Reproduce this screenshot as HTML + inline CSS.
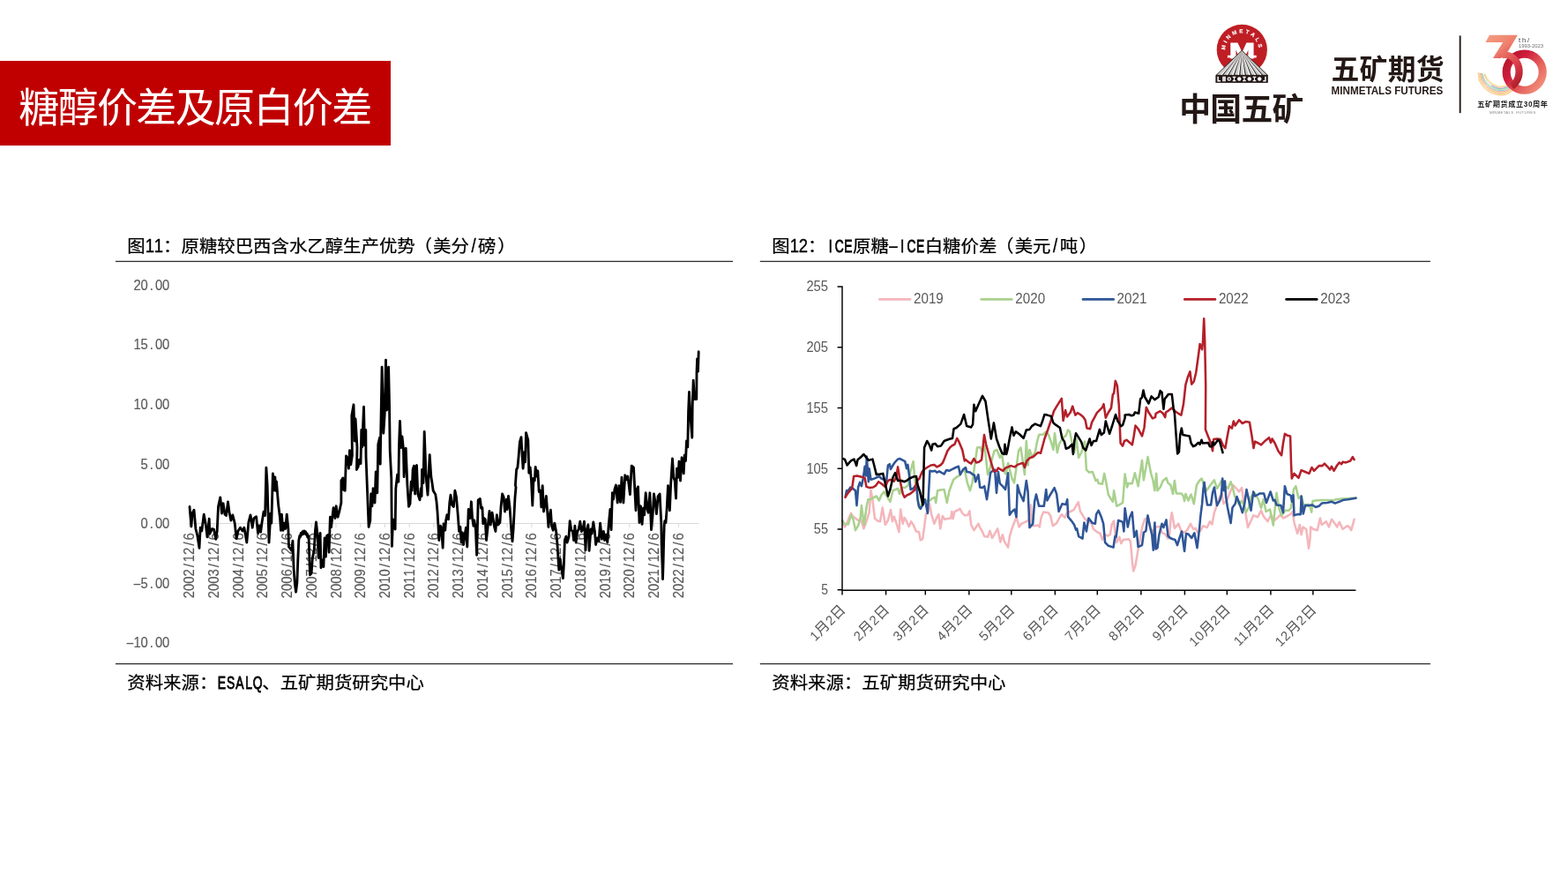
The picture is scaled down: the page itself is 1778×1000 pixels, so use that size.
<!DOCTYPE html>
<html lang="zh-CN">
<head>
<meta charset="utf-8">
<title>糖醇价差及原白价差</title>
<style>
html,body{margin:0;padding:0;background:#fff;}
body{width:1778px;height:1000px;position:relative;overflow:hidden;font-family:'Liberation Sans','Noto Sans CJK SC',sans-serif;}
.banner{position:absolute;left:0;top:69px;width:443px;height:96px;background:#C00000;}
.banner h1{margin:0;position:absolute;left:21.2px;top:4.5px;height:96px;line-height:96px;font-size:46px;font-weight:400;color:#fff;white-space:nowrap;letter-spacing:-1.62px;font-family:'Liberation Sans','Noto Sans CJK SC',sans-serif;}
svg{position:absolute;left:0;top:0;}
text{white-space:pre;}
</style>
</head>
<body>
<div class="banner"><h1>糖醇价差及原白价差</h1></div>
<svg width="1778" height="1000" viewBox="0 0 1778 1000">
<g id="logos">
<circle cx="1408.30" cy="56.30" r="28.60" fill="#BE1E24"/>
<defs><path id="arcM" d="M1389.96 60.87 A18.90 18.90 0 1 1 1426.64 60.87"/></defs>
<text font-family="'Liberation Sans','Noto Sans CJK SC',sans-serif" font-weight="700" font-size="6.2" fill="#fff" stroke="#fff" stroke-width="0.12" letter-spacing="2.6" text-anchor="middle"><textPath href="#arcM" startOffset="50%">MINMETALS</textPath></text>
<g fill="#fff"><text transform="translate(1408.3 65.5) scale(1.42 1)" text-anchor="middle" font-family="'Liberation Sans','Noto Sans CJK SC',sans-serif" font-weight="700" font-size="24.8" stroke="#fff" stroke-width="1.1" stroke-linejoin="miter">M</text><path d="M1391.9 65.6v-2.9h11v2.9zM1413.7 65.6v-2.9h11v2.9z"/></g>
<path d="M1408.20 57.20L1379.00 85.30H1437.40Z" fill="#C9C9C9" stroke="#231815" stroke-width="0.9" stroke-linejoin="round"/>
<path d="M1408.20 58.70L1383.99 85.30L1385.69 85.30Z" fill="#fff"/>
<path d="M1408.20 58.20L1385.69 85.30L1386.89 85.30Z" fill="#231815"/>
<path d="M1408.20 58.70L1390.48 85.30L1392.18 85.30Z" fill="#fff"/>
<path d="M1408.20 58.20L1392.18 85.30L1393.38 85.30Z" fill="#231815"/>
<path d="M1408.20 58.70L1396.97 85.30L1398.67 85.30Z" fill="#fff"/>
<path d="M1408.20 58.20L1398.67 85.30L1399.87 85.30Z" fill="#231815"/>
<path d="M1408.20 58.70L1403.46 85.30L1405.16 85.30Z" fill="#fff"/>
<path d="M1408.20 58.20L1405.16 85.30L1406.36 85.30Z" fill="#231815"/>
<path d="M1408.20 58.70L1409.94 85.30L1411.64 85.30Z" fill="#fff"/>
<path d="M1408.20 58.20L1411.64 85.30L1412.84 85.30Z" fill="#231815"/>
<path d="M1408.20 58.70L1416.43 85.30L1418.13 85.30Z" fill="#fff"/>
<path d="M1408.20 58.20L1418.13 85.30L1419.33 85.30Z" fill="#231815"/>
<path d="M1408.20 58.70L1422.92 85.30L1424.62 85.30Z" fill="#fff"/>
<path d="M1408.20 58.20L1424.62 85.30L1425.82 85.30Z" fill="#231815"/>
<path d="M1408.20 58.70L1429.41 85.30L1431.11 85.30Z" fill="#fff"/>
<path d="M1408.20 58.20L1431.11 85.30L1432.31 85.30Z" fill="#231815"/>
<rect x="1378.4" y="85.1" width="59.4" height="8.8" fill="#231815"/>
<path d="M1380.37 86.70h1.5v4.3h2.2v1.4h-3.7z" fill="#fff"/><rect x="1386.11" y="86.70" width="3.8" height="5.6" fill="#ddd"/><circle cx="1393.75" cy="89.50" r="2.2" fill="#fff"/><circle cx="1393.75" cy="89.50" r="1.0" fill="#231815"/><path d="M1397.69 86.70h3.6v1.3h-1.2v3h1.2v1.3h-3.6v-1.3h1.2v-3h-1.2z" fill="#fff"/><circle cx="1405.23" cy="89.50" r="2.2" fill="#fff"/><path d="M1409.17 86.70h3.6v1.3h-1.2v3h1.2v1.3h-3.6v-1.3h1.2v-3h-1.2z" fill="#fff"/><circle cx="1416.71" cy="89.50" r="2.2" fill="#fff"/><path d="M1420.65 86.70h3.6v1.3h-1.2v3h1.2v1.3h-3.6v-1.3h1.2v-3h-1.2z" fill="#fff"/><circle cx="1428.19" cy="89.50" r="2.2" fill="#fff"/><path d="M1434.13 86.70h1.5v5.7h-3.4v-1.4h1.9z" fill="#fff"/>
<text font-family="'Liberation Sans','Noto Sans CJK SC',sans-serif" font-weight="700" font-size="35.8" fill="#231815" y="137.4" x="1337.2 1372.3 1407.4 1442.5">中国五矿</text>
<text font-family="'Liberation Sans','Noto Sans CJK SC',sans-serif" font-weight="700" font-size="31.8" fill="#231815" y="89.6" x="1509.6 1541.6 1573.7 1605.7">五矿期货</text>
<text font-family="'Liberation Sans','Noto Sans CJK SC',sans-serif" font-weight="700" font-size="12.3" fill="#231815" x="1509.6" y="107.4" textLength="126.6" lengthAdjust="spacingAndGlyphs">MINMETALS FUTURES</text>
<rect x="1654.7" y="40.4" width="1.9" height="87.8" fill="#231815"/>
<defs><linearGradient id="g3" x1="0" y1="0" x2="1" y2="1"><stop offset="0" stop-color="#F4A081"/><stop offset="0.55" stop-color="#EE7F6C"/><stop offset="1" stop-color="#D93848"/></linearGradient><linearGradient id="g3b" x1="0" y1="0" x2="0.6" y2="1"><stop offset="0" stop-color="#EC7A68"/><stop offset="0.6" stop-color="#D73A48"/><stop offset="1" stop-color="#B01E2B"/></linearGradient><linearGradient id="g0" x1="0" y1="0.1" x2="1" y2="0.9"><stop offset="0" stop-color="#B5172C"/><stop offset="0.3" stop-color="#D01C3C"/><stop offset="0.65" stop-color="#E4605B"/><stop offset="1" stop-color="#F2917C"/></linearGradient></defs>
<path d="M1676.10 82.60L1676.20 83.35L1676.29 84.35L1676.39 85.53L1676.53 86.85L1676.73 88.24L1677.01 89.65L1677.39 91.03L1677.90 92.30L1678.54 93.54L1679.31 94.81L1680.17 96.11L1681.11 97.39L1682.12 98.63L1683.19 99.82L1684.28 100.92L1685.40 101.90L1686.56 102.78L1687.80 103.60L1689.10 104.34L1690.43 105.01L1691.79 105.61L1693.15 106.15L1694.49 106.61L1695.80 107.00L1697.10 107.32L1698.40 107.58L1699.71 107.77L1701.01 107.88L1702.30 107.92L1703.57 107.89L1704.80 107.79L1706.00 107.60L1707.21 107.28L1708.46 106.79L1709.72 106.19L1710.94 105.54L1712.08 104.88L1713.09 104.27L1713.95 103.76L1714.60 103.40" fill="none" stroke="#F6B45C" stroke-width="0.85" stroke-linecap="round" stroke-linejoin="round" opacity="0.85" stroke-dasharray="0.7 0.5"/>
<path d="M1677.20 82.86L1677.31 83.56L1677.42 84.49L1677.54 85.59L1677.70 86.82L1677.91 88.12L1678.20 89.43L1678.59 90.71L1679.08 91.90L1679.70 93.05L1680.42 94.24L1681.24 95.44L1682.13 96.64L1683.08 97.80L1684.09 98.91L1685.12 99.94L1686.18 100.86L1687.28 101.69L1688.46 102.47L1689.70 103.18L1690.97 103.82L1692.26 104.41L1693.55 104.92L1694.83 105.36L1696.07 105.74L1697.30 106.05L1698.53 106.28L1699.76 106.46L1700.99 106.56L1702.20 106.60L1703.39 106.57L1704.55 106.47L1705.67 106.30L1706.81 106.01L1707.99 105.57L1709.18 105.03L1710.32 104.44L1711.39 103.85L1712.35 103.30L1713.15 102.84L1713.77 102.52" fill="none" stroke="#F7BD63" stroke-width="0.85" stroke-linecap="round" stroke-linejoin="round" opacity="0.85" stroke-dasharray="0.7 0.5"/>
<path d="M1678.31 83.12L1678.43 83.77L1678.55 84.63L1678.69 85.65L1678.87 86.79L1679.10 87.99L1679.40 89.21L1679.78 90.39L1680.27 91.49L1680.86 92.56L1681.54 93.66L1682.31 94.78L1683.15 95.89L1684.04 96.97L1684.99 98.00L1685.96 98.96L1686.96 99.82L1688.01 100.61L1689.13 101.34L1690.30 102.02L1691.51 102.64L1692.74 103.20L1693.96 103.69L1695.17 104.12L1696.35 104.48L1697.50 104.77L1698.66 104.99L1699.81 105.15L1700.96 105.24L1702.09 105.27L1703.21 105.24L1704.29 105.15L1705.35 105.00L1706.42 104.74L1707.52 104.35L1708.63 103.87L1709.71 103.35L1710.71 102.82L1711.61 102.33L1712.36 101.92L1712.94 101.63" fill="none" stroke="#F5A94A" stroke-width="0.85" stroke-linecap="round" stroke-linejoin="round" opacity="0.90" stroke-dasharray="0.7 0.45"/>
<path d="M1679.50 83.40L1679.63 83.99L1679.77 84.78L1679.93 85.71L1680.13 86.75L1680.38 87.85L1680.69 88.97L1681.07 90.05L1681.54 91.06L1682.10 92.04L1682.75 93.05L1683.47 94.07L1684.25 95.08L1685.08 96.07L1685.95 97.02L1686.87 97.90L1687.80 98.70L1688.78 99.43L1689.84 100.12L1690.95 100.77L1692.09 101.36L1693.25 101.89L1694.40 102.37L1695.54 102.78L1696.64 103.12L1697.72 103.39L1698.79 103.60L1699.87 103.74L1700.93 103.82L1701.98 103.84L1703.01 103.81L1704.02 103.73L1705.00 103.60L1705.99 103.38L1707.02 103.04L1708.05 102.63L1709.04 102.17L1709.97 101.71L1710.81 101.28L1711.51 100.93L1712.04 100.68" fill="none" stroke="#EE8168" stroke-width="0.85" stroke-linecap="round" stroke-linejoin="round" opacity="0.90"/>
<path d="M1680.52 83.64L1680.66 84.18L1680.81 84.91L1680.99 85.77L1681.21 86.72L1681.47 87.73L1681.79 88.76L1682.17 89.76L1682.63 90.69L1683.17 91.59L1683.78 92.52L1684.45 93.46L1685.18 94.39L1685.96 95.30L1686.78 96.18L1687.64 96.99L1688.52 97.74L1689.45 98.43L1690.45 99.08L1691.50 99.69L1692.59 100.26L1693.68 100.78L1694.78 101.23L1695.86 101.63L1696.89 101.96L1697.90 102.21L1698.91 102.40L1699.92 102.53L1700.91 102.60L1701.89 102.62L1702.85 102.59L1703.79 102.51L1704.70 102.40L1705.63 102.21L1706.58 101.92L1707.54 101.56L1708.47 101.16L1709.34 100.76L1710.12 100.39L1710.77 100.08L1711.27 99.86" fill="none" stroke="#5CC5CC" stroke-width="0.85" stroke-linecap="round" stroke-linejoin="round" opacity="0.95"/>
<path d="M1681.54 83.88L1681.69 84.38L1681.85 85.04L1682.05 85.82L1682.29 86.69L1682.56 87.62L1682.89 88.55L1683.28 89.47L1683.72 90.32L1684.24 91.14L1684.81 91.99L1685.44 92.85L1686.12 93.70L1686.85 94.53L1687.62 95.34L1688.41 96.09L1689.24 96.78L1690.12 97.42L1691.06 98.04L1692.06 98.62L1693.08 99.16L1694.12 99.66L1695.16 100.10L1696.17 100.48L1697.14 100.79L1698.09 101.03L1699.03 101.21L1699.96 101.32L1700.88 101.38L1701.79 101.39L1702.68 101.36L1703.55 101.30L1704.40 101.20L1705.26 101.04L1706.15 100.79L1707.04 100.49L1707.91 100.15L1708.71 99.81L1709.43 99.49L1710.04 99.23L1710.50 99.05" fill="none" stroke="#9FD063" stroke-width="0.85" stroke-linecap="round" stroke-linejoin="round" opacity="0.95"/>
<path d="M1691.57 97.17L1692.52 97.73L1693.50 98.25L1694.49 98.73L1695.47 99.16L1696.43 99.52L1697.35 99.82L1698.25 100.05L1699.13 100.21L1700.00 100.31L1700.86 100.37L1701.71 100.37L1702.54 100.34L1703.36 100.28L1704.15 100.20L1704.96 100.06L1705.79 99.85L1706.62 99.59L1707.43 99.31L1708.19 99.02L1708.86 98.75L1709.43 98.52L1709.86 98.37" fill="none" stroke="#4F8FD0" stroke-width="0.85" stroke-linecap="round" stroke-linejoin="round" opacity="0.90"/>
<path d="M1683.41 84.32L1683.57 84.73L1683.77 85.27L1684.00 85.92L1684.27 86.64L1684.57 87.40L1684.92 88.18L1685.30 88.93L1685.73 89.63L1686.19 90.32L1686.71 91.02L1687.26 91.73L1687.85 92.43L1688.47 93.13L1689.14 93.79L1689.83 94.43L1690.56 95.02L1691.34 95.58L1692.18 96.13L1693.08 96.66L1693.99 97.15L1694.93 97.61L1695.85 98.02L1696.75 98.37L1697.61 98.66L1698.43 98.87L1699.25 99.02L1700.05 99.11L1700.84 99.15L1701.62 99.15L1702.38 99.12L1703.12 99.07L1703.85 99.00L1704.59 98.89L1705.35 98.73L1706.12 98.52L1706.86 98.30L1707.56 98.07L1708.18 97.85L1708.70 97.68L1709.10 97.55" fill="none" stroke="#EE8B75" stroke-width="0.85" stroke-linecap="round" stroke-linejoin="round" opacity="0.90"/>
<path d="M1684.60 84.60L1684.77 84.95L1684.98 85.42L1685.24 85.98L1685.52 86.61L1685.85 87.27L1686.20 87.94L1686.59 88.59L1687.00 89.20L1687.44 89.79L1687.91 90.40L1688.41 91.01L1688.94 91.62L1689.51 92.23L1690.11 92.81L1690.74 93.37L1691.40 93.90L1692.12 94.41L1692.90 94.91L1693.72 95.41L1694.58 95.88L1695.44 96.31L1696.29 96.70L1697.12 97.03L1697.90 97.30L1698.65 97.49L1699.38 97.62L1700.11 97.70L1700.81 97.72L1701.51 97.72L1702.18 97.69L1702.85 97.65L1703.50 97.60L1704.16 97.53L1704.85 97.42L1705.53 97.28L1706.20 97.12L1706.82 96.96L1707.38 96.81L1707.84 96.69L1708.20 96.60" fill="none" stroke="#F6E04E" stroke-width="0.85" stroke-linecap="round" stroke-linejoin="round" opacity="0.95"/>
<circle cx="1728.7" cy="81.7" r="20.55" fill="none" stroke="url(#g0)" stroke-width="9.1"/>
<path d="M1689.0 39.7H1720.9L1709.9 58.3Q1706.5 60.2 1702.0 65.9H1692.9L1704.2 48.1H1684.4Z" fill="url(#g3)"/>
<path d="M1701.61 59.17L1702.80 58.88L1704.01 58.67L1705.22 58.55L1706.44 58.50L1707.66 58.54L1708.87 58.66L1710.08 58.86L1711.27 59.14L1712.45 59.50L1713.60 59.94L1714.73 60.46L1715.83 61.05L1716.89 61.72L1717.92 62.46L1718.90 63.26L1719.84 64.13L1720.73 65.06L1721.57 66.05L1722.35 67.10L1723.08 68.19L1723.75 69.33L1724.35 70.52L1724.89 71.74L1725.36 73.00L1725.76 74.29L1726.09 75.60L1726.35 76.93L1726.54 78.28L1726.66 79.64L1726.70 81.00L1726.67 82.36L1726.56 83.72L1726.39 85.07L1726.13 86.41L1725.81 87.72L1725.42 89.01L1724.96 90.28L1724.43 91.51L1723.84 92.70L1723.18 93.85L1722.46 94.95L1721.69 96.00L1720.86 97.00L1719.97 97.94L1719.04 98.82L1718.06 99.63L1717.04 100.38L1715.98 101.05L1712.09 94.52L1712.71 94.07L1713.31 93.56L1713.89 93.02L1714.44 92.43L1714.96 91.79L1715.45 91.12L1715.90 90.41L1716.33 89.67L1716.71 88.90L1717.06 88.10L1717.37 87.27L1717.65 86.42L1717.88 85.55L1718.07 84.67L1718.21 83.77L1718.32 82.86L1718.38 81.95L1718.40 81.03L1718.38 80.12L1718.31 79.20L1718.20 78.30L1718.04 77.40L1717.85 76.52L1717.61 75.65L1717.33 74.81L1717.02 73.98L1716.66 73.19L1716.27 72.42L1715.84 71.68L1715.38 70.98L1714.88 70.31L1714.36 69.69L1713.81 69.10L1713.23 68.56L1712.62 68.07L1711.99 67.62L1711.35 67.22L1710.68 66.87L1710.00 66.57L1709.31 66.33L1708.61 66.14L1707.90 66.01L1707.18 65.93L1706.47 65.90L1705.75 65.93L1705.03 66.02L1704.32 66.16L1703.62 66.35Z" fill="url(#g3b)"/>
<text font-family="'Liberation Sans','Noto Sans CJK SC',sans-serif" font-size="7.6" fill="#3E3A39" x="1721.9" y="48.2" letter-spacing="1.9">th/</text>
<text font-family="'Liberation Sans','Noto Sans CJK SC',sans-serif" font-size="4.9" fill="#6E6E6E" x="1721.9" y="53.9" textLength="28.2" lengthAdjust="spacingAndGlyphs">1993-2023</text>
<text font-family="'Liberation Sans','Noto Sans CJK SC',sans-serif" font-weight="700" font-size="8.2" fill="#1A1A1A" x="1675.2" y="120.6" textLength="79.8" lengthAdjust="spacing">五矿期货成立30周年</text>
<text font-family="'Liberation Sans','Noto Sans CJK SC',sans-serif" font-size="4.3" fill="#8A8A8A" x="1689.0" y="129.0" textLength="52.3" lengthAdjust="spacing">MINMETALS  FUTURES</text>
</g>
<g id="chart-left">
<rect x="131" y="295.75" width="700" height="1.3" fill="#303030"/>
<rect x="131" y="752" width="700" height="1.3" fill="#303030"/>
<g fill="#595959" stroke="#595959" stroke-width="0.05" font-family="'Liberation Sans','Noto Sans CJK SC',sans-serif" ><text transform="translate(151.43 328.90) scale(0.870 1)" font-size="17.00" stroke="#595959" stroke-width="0.17" x="-0.03 9.37 21.13 28.16 37.56">20.00</text></g>
<g fill="#595959" stroke="#595959" stroke-width="0.05" font-family="'Liberation Sans','Noto Sans CJK SC',sans-serif" ><text transform="translate(151.43 396.45) scale(0.870 1)" font-size="17.00" stroke="#595959" stroke-width="0.17" x="-0.03 9.37 21.13 28.16 37.56">15.00</text></g>
<g fill="#595959" stroke="#595959" stroke-width="0.05" font-family="'Liberation Sans','Noto Sans CJK SC',sans-serif" ><text transform="translate(151.43 464.00) scale(0.870 1)" font-size="17.00" stroke="#595959" stroke-width="0.17" x="-0.03 9.37 21.13 28.16 37.56">10.00</text></g>
<g fill="#595959" stroke="#595959" stroke-width="0.05" font-family="'Liberation Sans','Noto Sans CJK SC',sans-serif" ><text transform="translate(159.60 531.55) scale(0.870 1)" font-size="17.00" stroke="#595959" stroke-width="0.17" x="-0.03 11.73 18.76 28.16">5.00</text></g>
<g fill="#595959" stroke="#595959" stroke-width="0.05" font-family="'Liberation Sans','Noto Sans CJK SC',sans-serif" ><text transform="translate(159.60 599.10) scale(0.870 1)" font-size="17.00" stroke="#595959" stroke-width="0.17" x="-0.03 11.73 18.76 28.16">0.00</text></g>
<g fill="#595959" stroke="#595959" stroke-width="0.05" font-family="'Liberation Sans','Noto Sans CJK SC',sans-serif" ><text transform="translate(151.43 666.65) scale(1.900 1)" font-size="16.35" x="-0.57">-</text><text transform="translate(151.43 666.65) scale(0.870 1)" font-size="17.00" stroke="#595959" stroke-width="0.17" x="9.37 21.13 28.16 37.56">5.00</text></g>
<g fill="#595959" stroke="#595959" stroke-width="0.05" font-family="'Liberation Sans','Noto Sans CJK SC',sans-serif" ><text transform="translate(143.25 734.20) scale(1.900 1)" font-size="16.35" x="-0.57">-</text><text transform="translate(143.25 734.20) scale(0.870 1)" font-size="17.00" stroke="#595959" stroke-width="0.17" x="9.37 18.76 30.53 37.56 46.95">10.00</text></g>
<path d="M213.5 593.5H792.3" stroke="#D9D9D9" stroke-width="1" fill="none"/>
<path d="M214.60 593.5v4.6M242.33 593.5v4.6M270.07 593.5v4.6M297.81 593.5v4.6M325.54 593.5v4.6M353.27 593.5v4.6M381.01 593.5v4.6M408.75 593.5v4.6M436.48 593.5v4.6M464.22 593.5v4.6M491.95 593.5v4.6M519.68 593.5v4.6M547.42 593.5v4.6M575.15 593.5v4.6M602.89 593.5v4.6M630.62 593.5v4.6M658.36 593.5v4.6M686.10 593.5v4.6M713.83 593.5v4.6M741.57 593.5v4.6M769.30 593.5v4.6" stroke="#D9D9D9" stroke-width="1" fill="none"/>
<g transform="translate(220.10 678.2) rotate(-90)"><g fill="#595959" stroke="#595959" stroke-width="0.05" font-family="'Liberation Sans','Noto Sans CJK SC',sans-serif" ><text transform="translate(0.00 0.00) scale(0.870 1)" font-size="17.08" stroke="#595959" stroke-width="0.17" x="-0.03 9.41 18.84 28.28 40.09 47.15 56.59 68.40 75.46">2002/12/6</text></g></g>
<g transform="translate(247.83 678.2) rotate(-90)"><g fill="#595959" stroke="#595959" stroke-width="0.05" font-family="'Liberation Sans','Noto Sans CJK SC',sans-serif" ><text transform="translate(0.00 0.00) scale(0.870 1)" font-size="17.08" stroke="#595959" stroke-width="0.17" x="-0.03 9.41 18.84 28.28 40.09 47.15 56.59 68.40 75.46">2003/12/6</text></g></g>
<g transform="translate(275.57 678.2) rotate(-90)"><g fill="#595959" stroke="#595959" stroke-width="0.05" font-family="'Liberation Sans','Noto Sans CJK SC',sans-serif" ><text transform="translate(0.00 0.00) scale(0.870 1)" font-size="17.08" stroke="#595959" stroke-width="0.17" x="-0.03 9.41 18.84 28.28 40.09 47.15 56.59 68.40 75.46">2004/12/6</text></g></g>
<g transform="translate(303.31 678.2) rotate(-90)"><g fill="#595959" stroke="#595959" stroke-width="0.05" font-family="'Liberation Sans','Noto Sans CJK SC',sans-serif" ><text transform="translate(0.00 0.00) scale(0.870 1)" font-size="17.08" stroke="#595959" stroke-width="0.17" x="-0.03 9.41 18.84 28.28 40.09 47.15 56.59 68.40 75.46">2005/12/6</text></g></g>
<g transform="translate(331.04 678.2) rotate(-90)"><g fill="#595959" stroke="#595959" stroke-width="0.05" font-family="'Liberation Sans','Noto Sans CJK SC',sans-serif" ><text transform="translate(0.00 0.00) scale(0.870 1)" font-size="17.08" stroke="#595959" stroke-width="0.17" x="-0.03 9.41 18.84 28.28 40.09 47.15 56.59 68.40 75.46">2006/12/6</text></g></g>
<g transform="translate(358.77 678.2) rotate(-90)"><g fill="#595959" stroke="#595959" stroke-width="0.05" font-family="'Liberation Sans','Noto Sans CJK SC',sans-serif" ><text transform="translate(0.00 0.00) scale(0.870 1)" font-size="17.08" stroke="#595959" stroke-width="0.17" x="-0.03 9.41 18.84 28.28 40.09 47.15 56.59 68.40 75.46">2007/12/6</text></g></g>
<g transform="translate(386.51 678.2) rotate(-90)"><g fill="#595959" stroke="#595959" stroke-width="0.05" font-family="'Liberation Sans','Noto Sans CJK SC',sans-serif" ><text transform="translate(0.00 0.00) scale(0.870 1)" font-size="17.08" stroke="#595959" stroke-width="0.17" x="-0.03 9.41 18.84 28.28 40.09 47.15 56.59 68.40 75.46">2008/12/6</text></g></g>
<g transform="translate(414.25 678.2) rotate(-90)"><g fill="#595959" stroke="#595959" stroke-width="0.05" font-family="'Liberation Sans','Noto Sans CJK SC',sans-serif" ><text transform="translate(0.00 0.00) scale(0.870 1)" font-size="17.08" stroke="#595959" stroke-width="0.17" x="-0.03 9.41 18.84 28.28 40.09 47.15 56.59 68.40 75.46">2009/12/6</text></g></g>
<g transform="translate(441.98 678.2) rotate(-90)"><g fill="#595959" stroke="#595959" stroke-width="0.05" font-family="'Liberation Sans','Noto Sans CJK SC',sans-serif" ><text transform="translate(0.00 0.00) scale(0.870 1)" font-size="17.08" stroke="#595959" stroke-width="0.17" x="-0.03 9.41 18.84 28.28 40.09 47.15 56.59 68.40 75.46">2010/12/6</text></g></g>
<g transform="translate(469.72 678.2) rotate(-90)"><g fill="#595959" stroke="#595959" stroke-width="0.05" font-family="'Liberation Sans','Noto Sans CJK SC',sans-serif" ><text transform="translate(0.00 0.00) scale(0.870 1)" font-size="17.08" stroke="#595959" stroke-width="0.17" x="-0.03 9.41 18.84 28.28 40.09 47.15 56.59 68.40 75.46">2011/12/6</text></g></g>
<g transform="translate(497.45 678.2) rotate(-90)"><g fill="#595959" stroke="#595959" stroke-width="0.05" font-family="'Liberation Sans','Noto Sans CJK SC',sans-serif" ><text transform="translate(0.00 0.00) scale(0.870 1)" font-size="17.08" stroke="#595959" stroke-width="0.17" x="-0.03 9.41 18.84 28.28 40.09 47.15 56.59 68.40 75.46">2012/12/6</text></g></g>
<g transform="translate(525.18 678.2) rotate(-90)"><g fill="#595959" stroke="#595959" stroke-width="0.05" font-family="'Liberation Sans','Noto Sans CJK SC',sans-serif" ><text transform="translate(0.00 0.00) scale(0.870 1)" font-size="17.08" stroke="#595959" stroke-width="0.17" x="-0.03 9.41 18.84 28.28 40.09 47.15 56.59 68.40 75.46">2013/12/6</text></g></g>
<g transform="translate(552.92 678.2) rotate(-90)"><g fill="#595959" stroke="#595959" stroke-width="0.05" font-family="'Liberation Sans','Noto Sans CJK SC',sans-serif" ><text transform="translate(0.00 0.00) scale(0.870 1)" font-size="17.08" stroke="#595959" stroke-width="0.17" x="-0.03 9.41 18.84 28.28 40.09 47.15 56.59 68.40 75.46">2014/12/6</text></g></g>
<g transform="translate(580.65 678.2) rotate(-90)"><g fill="#595959" stroke="#595959" stroke-width="0.05" font-family="'Liberation Sans','Noto Sans CJK SC',sans-serif" ><text transform="translate(0.00 0.00) scale(0.870 1)" font-size="17.08" stroke="#595959" stroke-width="0.17" x="-0.03 9.41 18.84 28.28 40.09 47.15 56.59 68.40 75.46">2015/12/6</text></g></g>
<g transform="translate(608.39 678.2) rotate(-90)"><g fill="#595959" stroke="#595959" stroke-width="0.05" font-family="'Liberation Sans','Noto Sans CJK SC',sans-serif" ><text transform="translate(0.00 0.00) scale(0.870 1)" font-size="17.08" stroke="#595959" stroke-width="0.17" x="-0.03 9.41 18.84 28.28 40.09 47.15 56.59 68.40 75.46">2016/12/6</text></g></g>
<g transform="translate(636.12 678.2) rotate(-90)"><g fill="#595959" stroke="#595959" stroke-width="0.05" font-family="'Liberation Sans','Noto Sans CJK SC',sans-serif" ><text transform="translate(0.00 0.00) scale(0.870 1)" font-size="17.08" stroke="#595959" stroke-width="0.17" x="-0.03 9.41 18.84 28.28 40.09 47.15 56.59 68.40 75.46">2017/12/6</text></g></g>
<g transform="translate(663.86 678.2) rotate(-90)"><g fill="#595959" stroke="#595959" stroke-width="0.05" font-family="'Liberation Sans','Noto Sans CJK SC',sans-serif" ><text transform="translate(0.00 0.00) scale(0.870 1)" font-size="17.08" stroke="#595959" stroke-width="0.17" x="-0.03 9.41 18.84 28.28 40.09 47.15 56.59 68.40 75.46">2018/12/6</text></g></g>
<g transform="translate(691.60 678.2) rotate(-90)"><g fill="#595959" stroke="#595959" stroke-width="0.05" font-family="'Liberation Sans','Noto Sans CJK SC',sans-serif" ><text transform="translate(0.00 0.00) scale(0.870 1)" font-size="17.08" stroke="#595959" stroke-width="0.17" x="-0.03 9.41 18.84 28.28 40.09 47.15 56.59 68.40 75.46">2019/12/6</text></g></g>
<g transform="translate(719.33 678.2) rotate(-90)"><g fill="#595959" stroke="#595959" stroke-width="0.05" font-family="'Liberation Sans','Noto Sans CJK SC',sans-serif" ><text transform="translate(0.00 0.00) scale(0.870 1)" font-size="17.08" stroke="#595959" stroke-width="0.17" x="-0.03 9.41 18.84 28.28 40.09 47.15 56.59 68.40 75.46">2020/12/6</text></g></g>
<g transform="translate(747.07 678.2) rotate(-90)"><g fill="#595959" stroke="#595959" stroke-width="0.05" font-family="'Liberation Sans','Noto Sans CJK SC',sans-serif" ><text transform="translate(0.00 0.00) scale(0.870 1)" font-size="17.08" stroke="#595959" stroke-width="0.17" x="-0.03 9.41 18.84 28.28 40.09 47.15 56.59 68.40 75.46">2021/12/6</text></g></g>
<g transform="translate(774.80 678.2) rotate(-90)"><g fill="#595959" stroke="#595959" stroke-width="0.05" font-family="'Liberation Sans','Noto Sans CJK SC',sans-serif" ><text transform="translate(0.00 0.00) scale(0.870 1)" font-size="17.08" stroke="#595959" stroke-width="0.17" x="-0.03 9.41 18.84 28.28 40.09 47.15 56.59 68.40 75.46">2022/12/6</text></g></g>
<path d="M215.0 574.5 216.9 597.0 218.1 582.0 220.0 578.2 221.9 599.5 223.8 607.0 226.0 621.4 227.2 598.2 228.8 602.0 231.2 583.2 233.1 593.2 235.0 608.9 237.2 588.2 237.8 605.1 240.6 599.5 242.5 600.1 244.8 611.4 246.2 602.0 247.5 574.5 249.8 563.9 251.5 582.0 253.1 570.8 255.0 583.2 256.5 584.5 258.5 568.9 260.0 580.8 261.9 590.1 263.8 583.9 266.2 593.2 268.1 610.8 270.0 602.0 272.5 598.2 275.0 602.0 276.9 598.2 279.8 615.1 281.9 592.0 284.0 583.9 286.2 598.2 287.8 587.6 290.6 585.8 292.5 604.5 294.4 595.8 295.6 603.2 296.9 593.2 299.0 580.1 300.6 584.5 301.9 530.1 303.1 549.5 305.0 615.1 306.9 582.0 307.8 593.2 309.4 537.0 311.0 555.8 311.9 540.8 312.5 556.4 313.5 545.8 315.6 572.0 317.5 587.0 318.5 601.4 319.4 583.2 321.0 601.4 322.5 593.2 323.8 599.5 325.2 583.2 326.9 599.5 327.5 620.0 329.4 622.5 330.6 623.8 331.9 613.1 333.1 645.0 334.4 662.5 335.6 671.2 336.9 660.0 337.8 635.0 338.8 612.5 339.8 607.5 340.5 608.8 341.2 604.4 342.1 606.5 343.0 602.8 343.9 605.5 344.8 601.9 345.6 605.0 346.5 602.8 347.4 606.5 348.2 604.8 349.0 609.0 349.8 607.5 350.2 612.5 351.5 651.9 353.1 650.0 354.4 632.5 356.2 623.8 357.5 601.2 358.5 591.9 360.0 606.2 361.2 632.5 363.1 604.4 364.0 643.8 365.6 635.0 366.9 642.5 368.1 610.0 369.4 631.2 370.6 607.5 372.5 606.2 373.1 626.2 374.4 586.2 375.6 597.5 376.9 586.2 378.1 575.6 380.0 587.5 381.2 573.8 383.1 586.2 385.0 578.8 386.9 570.0 386.9 545.0 388.8 541.9 389.4 555.0 391.2 556.2 392.5 516.9 394.4 520.0 395.4 531.2 396.5 510.6 397.8 526.9 399.4 516.2 398.8 471.2 401.0 458.8 402.2 500.0 403.1 475.0 405.0 507.5 404.4 532.5 406.2 528.8 407.5 521.2 409.0 525.6 409.8 487.5 410.6 506.9 412.5 461.2 413.5 505.0 414.8 487.5 415.0 517.5 418.1 597.5 419.8 590.0 420.6 560.0 421.9 573.8 423.1 553.8 425.0 570.0 426.2 535.0 427.8 558.8 428.8 503.8 430.6 496.2 431.2 526.2 431.9 482.5 433.1 416.2 434.8 491.2 436.2 470.0 437.5 408.1 438.5 465.0 439.4 462.5 440.6 416.2 441.5 457.5 442.2 511.2 443.8 542.5 444.4 619.4 445.6 588.8 448.1 600.0 448.8 553.8 450.6 538.1 451.9 546.2 452.5 505.0 453.5 477.5 454.8 507.5 456.0 495.0 457.5 510.0 458.1 540.6 460.2 508.1 461.9 550.0 463.5 574.4 465.0 571.2 466.2 546.2 467.2 556.2 468.1 532.5 469.4 528.1 470.6 560.0 471.5 530.0 472.5 527.5 473.8 560.0 476.0 566.9 477.2 553.8 478.1 562.5 478.5 532.5 480.0 547.5 481.2 489.4 483.1 540.0 485.0 561.2 487.2 515.6 488.8 540.0 490.0 547.5 491.2 556.2 493.8 560.6 495.0 568.8 496.0 580.0 496.9 595.0 497.8 612.5 499.4 596.2 500.6 598.8 502.1 621.2 503.1 593.8 504.8 601.2 505.6 590.0 506.9 583.8 508.5 588.8 509.8 570.0 511.0 561.2 512.5 572.5 514.4 574.4 515.9 556.2 517.5 563.8 519.0 581.2 520.6 602.5 521.9 597.5 523.1 615.0 524.4 603.8 525.6 617.5 527.5 603.8 528.5 598.1 529.8 620.0 531.2 577.5 533.1 587.5 534.4 568.8 535.6 587.5 536.9 596.2 537.8 590.0 539.4 600.0 540.6 629.4 542.2 566.9 544.4 565.6 545.6 576.2 546.9 575.6 547.8 593.8 548.8 587.5 550.2 588.8 551.5 612.5 553.1 597.5 555.0 579.4 556.2 595.0 558.1 581.2 559.4 590.0 560.6 597.5 561.9 602.5 563.4 583.8 565.0 595.0 566.9 592.5 568.1 573.8 569.6 560.0 571.2 563.8 572.5 580.0 574.4 566.2 575.0 577.5 576.5 562.5 578.1 576.2 579.8 601.2 581.0 613.8 582.2 598.8 583.1 581.2 584.0 563.8 585.0 552.5 584.4 550.0 585.6 532.5 586.9 530.0 588.1 517.5 589.4 501.2 591.0 495.6 592.2 517.5 593.1 531.2 594.8 512.5 595.6 523.8 596.5 490.6 598.8 498.8 599.8 536.2 601.2 530.0 602.5 545.0 603.8 573.1 605.0 542.5 606.2 545.0 607.2 529.4 608.5 540.0 609.8 533.8 611.2 557.5 612.8 556.2 613.8 575.0 615.2 550.6 616.5 580.0 618.1 571.2 619.4 562.5 620.6 578.8 621.9 597.5 623.1 586.2 624.4 578.1 625.6 596.2 627.2 601.2 628.8 593.1 630.6 602.5 631.9 616.2 633.8 646.2 635.2 633.8 636.5 643.8 638.4 655.6 639.4 640.0 640.4 612.5 641.9 608.1 643.1 615.0 645.0 608.8 646.2 590.6 647.8 601.2 649.4 602.5 650.6 612.5 651.9 596.2 653.1 615.0 654.8 602.5 656.2 600.0 657.8 591.2 659.4 602.5 661.0 600.0 662.5 591.2 664.0 623.8 665.0 602.5 666.9 595.0 668.1 624.4 670.0 600.0 671.2 605.0 672.8 591.9 674.4 602.5 675.6 617.5 677.5 610.0 679.0 613.8 680.6 593.1 682.5 611.2 684.4 602.5 685.6 612.5 687.2 606.2 688.8 615.0 690.0 597.5 691.9 577.5 693.1 600.6 694.4 558.8 695.6 566.2 696.9 555.0 698.5 550.0 700.2 570.0 701.9 550.6 703.5 569.4 705.0 541.2 706.9 570.0 708.8 538.8 710.6 543.8 711.9 540.0 714.4 560.6 716.2 528.1 718.5 530.0 719.8 555.0 721.0 578.8 722.2 555.0 723.5 551.9 725.0 592.5 726.5 573.8 728.1 594.4 729.4 576.2 730.6 583.8 732.2 558.8 734.0 577.5 735.2 581.2 736.9 558.8 738.5 600.6 740.0 585.0 741.5 560.0 743.1 570.0 744.4 582.5 746.2 562.5 748.1 560.0 749.8 592.5 750.2 618.0 751.0 640.0 751.5 656.6 752.1 638.0 752.7 612.0 753.2 596.0 753.8 590.6 755.0 592.5 756.2 576.2 757.5 550.6 759.4 578.8 760.6 550.0 762.5 520.0 763.8 541.2 765.2 545.0 766.5 565.0 767.5 531.2 769.0 541.2 770.0 523.1 771.5 545.0 773.1 518.8 775.2 536.9 776.2 516.2 777.5 522.5 778.5 500.0 779.8 506.9 780.6 466.2 781.5 444.4 782.5 467.5 784.8 496.2 785.2 460.0 786.2 431.2 787.5 452.5 789.8 452.5 790.0 422.5 790.6 406.9 791.5 421.2 792.2 398.8" stroke="#000" stroke-width="2.85" fill="none" stroke-linejoin="round" stroke-linecap="round"/>
</g>
<g id="chart-right">
<rect x="861.8" y="295.75" width="760.1" height="1.3" fill="#303030"/>
<rect x="861.8" y="752" width="760.1" height="1.3" fill="#303030"/>
<path d="M956.0 592.5 958.1 597.5 960.6 592.5 963.1 586.2 965.0 581.9 967.5 586.2 970.0 587.5 973.1 590.0 976.2 588.8 979.4 599.4 982.5 591.2 985.6 581.2 987.5 556.2 989.4 566.2 991.9 587.5 995.0 590.6 998.1 591.2 1000.6 575.6 1002.5 586.2 1003.8 595.0 1006.9 590.0 1010.0 578.1 1011.9 591.2 1013.8 585.6 1016.2 592.5 1019.4 603.1 1021.2 577.5 1023.8 593.8 1025.6 586.9 1028.1 591.2 1030.6 596.9 1033.1 591.2 1036.2 596.2 1038.8 602.5 1041.9 603.1 1043.8 612.5 1046.2 611.2 1048.1 597.5 1050.0 582.5 1051.9 581.2 1054.0 571.2 1056.2 583.1 1059.4 593.8 1061.9 587.5 1064.4 583.1 1066.2 599.4 1068.8 585.0 1071.2 588.8 1075.0 588.1 1078.1 587.5 1079.4 580.0 1080.6 588.1 1082.5 580.0 1085.6 578.8 1088.5 576.9 1091.2 581.9 1094.4 584.4 1097.5 583.8 1099.4 579.4 1101.2 595.0 1104.4 601.2 1106.9 597.5 1109.4 593.8 1111.2 598.1 1113.8 602.5 1116.2 608.1 1120.0 608.8 1122.5 601.9 1125.0 610.0 1128.1 605.0 1131.2 599.4 1134.4 614.4 1136.9 606.2 1138.8 613.8 1143.1 620.6 1145.0 607.5 1148.1 597.5 1152.5 586.2 1155.6 597.5 1158.1 593.8 1162.5 591.9 1166.2 590.0 1168.8 572.5 1170.6 595.6 1172.5 596.2 1176.9 595.6 1178.8 597.5 1180.6 586.9 1183.1 580.6 1188.8 581.2 1191.2 585.0 1193.8 596.2 1198.1 593.1 1201.2 587.5 1203.8 583.1 1207.5 586.9 1210.0 581.2 1213.8 580.0 1217.5 578.1 1220.0 573.8 1222.8 569.4 1225.0 580.0 1227.5 583.8 1230.6 588.8 1233.8 591.2 1237.5 593.1 1240.0 600.0 1243.8 603.1 1247.5 605.0 1250.0 611.9 1252.5 606.2 1256.2 607.5 1258.8 606.2 1260.6 595.0 1263.1 590.6 1264.4 603.8 1266.2 615.0 1269.4 608.8 1271.2 616.2 1273.8 611.9 1280.0 611.2 1281.9 613.8 1283.8 636.2 1285.2 647.5 1287.5 641.2 1290.6 622.5 1293.1 608.8 1295.6 596.2 1298.1 588.8 1301.9 586.2 1304.4 598.8 1307.5 602.5 1310.6 597.5 1315.0 596.9 1317.5 603.8 1321.2 605.6 1324.4 610.6 1326.2 605.0 1327.5 588.8 1328.8 581.2 1331.9 598.8 1336.2 593.8 1339.4 601.9 1342.5 603.8 1346.2 601.2 1350.0 593.8 1353.1 600.0 1355.6 598.8 1358.1 603.8 1361.2 601.9 1364.4 596.2 1368.8 598.1 1371.9 591.2 1374.4 594.4 1376.9 581.2 1380.0 572.5 1382.5 565.0 1385.0 558.8 1387.5 571.2 1391.2 567.5 1395.0 557.5 1398.1 550.0 1401.9 553.8 1405.0 557.5 1408.1 553.1 1410.0 567.5 1412.5 582.5 1415.0 598.1 1418.1 591.2 1421.2 584.4 1426.2 586.2 1430.0 578.8 1432.5 585.0 1437.5 591.2 1441.2 583.8 1445.0 590.0 1448.8 586.9 1451.9 583.8 1455.0 587.5 1460.0 585.0 1463.8 582.5 1465.6 580.0 1467.5 592.5 1471.2 605.0 1473.8 595.0 1475.6 606.2 1477.5 597.5 1481.2 600.0 1482.5 610.0 1484.0 621.9 1485.6 610.0 1486.2 597.5 1489.4 600.0 1493.8 601.2 1496.9 587.5 1498.8 595.0 1503.8 591.2 1506.9 597.5 1510.0 588.8 1513.8 593.8 1516.2 597.5 1518.8 591.9 1522.5 600.0 1527.5 596.2 1530.0 597.5 1532.2 601.2 1535.6 588.8" stroke="#F4B6BB" stroke-width="2.55" fill="none" stroke-linejoin="round" stroke-linecap="round"/>
<path d="M955.0 590.0 957.5 593.8 961.9 594.4 965.0 583.8 967.5 588.8 970.0 601.2 973.1 596.2 975.6 587.5 976.9 573.1 979.8 595.6 982.5 575.0 984.4 566.2 987.5 566.2 990.0 564.4 993.8 562.5 996.9 567.5 999.4 561.2 1002.5 557.5 1005.6 562.5 1009.4 568.8 1012.5 556.2 1015.6 555.0 1018.1 553.8 1020.0 560.0 1022.5 552.5 1026.2 553.1 1030.0 550.0 1032.5 533.8 1035.6 523.1 1037.5 545.0 1039.4 552.5 1040.6 566.2 1042.5 576.2 1046.2 568.8 1050.0 567.5 1053.1 568.8 1056.2 565.6 1060.0 563.8 1061.2 570.0 1063.1 556.2 1066.2 555.6 1070.6 555.0 1073.8 570.0 1076.2 557.5 1078.8 550.0 1081.2 543.8 1084.4 541.2 1087.5 539.4 1090.6 535.0 1093.8 532.5 1096.9 547.5 1100.0 556.2 1102.5 547.5 1105.6 525.0 1108.1 507.5 1111.2 506.9 1113.8 512.5 1116.2 505.0 1118.1 520.0 1120.0 538.1 1122.5 531.2 1125.0 520.0 1127.5 511.2 1130.6 510.0 1133.8 518.8 1136.2 515.0 1138.8 535.0 1140.6 537.5 1143.1 525.0 1147.5 542.5 1150.0 547.5 1152.5 530.0 1155.0 511.2 1157.5 507.5 1160.0 525.0 1161.9 538.1 1163.8 500.0 1165.6 527.5 1167.5 510.0 1170.6 518.8 1173.8 512.5 1176.2 500.0 1178.1 493.1 1183.1 492.5 1186.2 489.4 1188.8 492.5 1191.9 501.2 1194.4 510.0 1196.0 491.2 1198.8 513.1 1201.2 503.1 1205.0 496.9 1208.8 493.8 1210.9 487.5 1213.1 489.4 1215.6 501.9 1218.1 513.1 1220.6 498.1 1223.1 518.8 1226.2 513.1 1230.0 500.6 1231.9 532.5 1235.0 535.6 1238.8 535.0 1242.5 545.0 1244.4 543.8 1245.6 548.1 1250.0 548.8 1252.2 536.9 1254.4 547.5 1256.9 561.2 1260.0 566.2 1261.9 568.8 1263.1 556.2 1266.2 573.8 1270.0 571.9 1273.1 570.0 1275.6 537.5 1278.1 552.5 1279.4 548.1 1283.8 548.1 1286.9 536.2 1290.6 551.2 1295.0 521.9 1296.9 544.4 1301.5 518.1 1305.0 536.2 1307.5 545.0 1309.4 556.2 1311.2 536.9 1312.5 556.2 1315.6 552.5 1318.8 545.0 1322.5 541.9 1324.4 547.5 1327.5 550.0 1330.0 560.0 1331.9 545.0 1333.8 559.4 1339.4 559.4 1341.9 562.5 1343.1 568.1 1344.4 560.0 1347.5 567.5 1350.6 560.6 1353.8 571.2 1356.9 550.0 1360.0 545.0 1362.8 542.5 1364.4 548.8 1368.1 556.2 1372.5 550.0 1376.9 544.4 1380.0 553.8 1383.1 548.8 1385.0 545.0 1388.8 550.6 1392.5 553.8 1395.6 546.2 1398.1 553.8 1400.0 562.5 1402.5 567.5 1405.0 572.5 1407.5 568.1 1410.0 571.2 1413.1 580.6 1416.2 575.0 1418.1 563.8 1422.5 558.8 1426.9 566.2 1430.0 576.2 1432.5 566.2 1435.6 580.0 1440.0 577.5 1443.8 595.6 1447.5 558.8 1450.0 575.0 1453.1 584.4 1457.5 578.8 1461.2 578.8 1463.8 576.2 1465.6 566.2 1466.9 555.0 1469.4 551.2 1472.5 565.0 1475.6 562.5 1478.1 572.5 1483.1 571.9 1485.6 575.0 1487.2 580.6 1488.5 568.1 1491.9 567.5 1498.8 566.9 1507.5 566.9 1511.2 567.5 1515.0 566.2 1521.2 565.6 1530.0 565.0 1537.5 564.4" stroke="#A9D18E" stroke-width="2.55" fill="none" stroke-linejoin="round" stroke-linecap="round"/>
<path d="M958.8 562.5 960.0 556.2 961.9 556.2 964.4 552.5 966.9 553.8 970.0 556.2 971.5 573.1 973.1 552.5 975.0 546.9 976.9 551.2 978.8 542.5 980.6 528.8 981.9 539.4 982.8 517.5 984.8 546.2 985.6 531.2 987.5 543.8 990.0 543.1 993.1 541.9 996.9 540.0 999.4 542.5 1002.5 543.8 1005.0 547.5 1006.9 527.5 1008.8 526.2 1010.0 531.9 1012.5 527.5 1015.0 523.8 1018.1 520.6 1020.0 520.0 1022.5 521.2 1026.2 523.1 1028.1 531.2 1029.4 526.9 1031.2 541.2 1032.5 555.0 1035.6 553.8 1037.5 551.2 1039.4 552.5 1040.6 566.2 1041.9 573.8 1043.8 576.9 1046.2 572.5 1048.8 566.2 1051.9 581.9 1053.1 557.5 1054.4 533.8 1057.5 534.4 1060.0 533.8 1062.5 535.6 1065.0 534.4 1068.1 536.2 1070.6 537.5 1073.1 533.1 1076.2 533.8 1080.0 531.9 1083.8 530.0 1086.9 528.8 1088.8 538.1 1091.9 532.5 1095.0 530.0 1096.2 535.0 1100.0 535.6 1102.5 537.5 1105.0 538.8 1106.2 546.2 1109.4 538.1 1111.2 552.5 1113.8 553.1 1116.2 551.2 1119.0 566.2 1121.2 551.2 1123.1 536.2 1126.2 533.1 1128.1 532.5 1130.0 558.8 1131.9 535.0 1133.8 548.1 1137.5 551.9 1140.0 555.0 1143.1 536.2 1144.8 583.8 1147.5 580.0 1150.6 577.5 1152.5 586.2 1153.8 550.0 1156.2 558.8 1160.6 568.1 1163.8 545.0 1165.6 557.5 1167.5 598.1 1171.2 593.8 1173.1 568.8 1175.0 560.6 1178.1 573.8 1183.8 573.8 1186.2 555.0 1187.5 567.5 1190.0 562.5 1195.6 553.1 1198.1 560.0 1200.6 580.0 1204.4 571.2 1208.8 571.9 1210.2 566.2 1211.2 586.2 1215.0 590.6 1218.1 595.0 1220.0 600.6 1221.2 599.4 1223.1 608.1 1227.5 610.6 1229.4 592.5 1231.9 602.5 1234.4 587.5 1238.8 593.1 1241.9 593.8 1243.1 583.1 1245.6 578.8 1248.8 586.2 1251.2 593.8 1253.1 615.0 1256.9 618.8 1262.5 620.6 1264.4 608.1 1265.6 608.8 1268.1 590.0 1273.1 591.9 1274.4 602.5 1275.6 576.2 1278.8 597.5 1281.2 586.2 1283.8 580.6 1286.2 608.8 1288.8 601.9 1290.6 620.0 1295.0 618.1 1296.9 603.8 1299.4 601.9 1301.5 584.4 1304.4 598.8 1306.2 606.2 1307.8 623.8 1309.4 592.5 1310.6 622.5 1312.5 621.2 1314.4 606.2 1317.5 593.8 1319.4 598.1 1322.5 589.4 1324.4 607.5 1326.9 610.0 1330.0 611.2 1332.5 611.9 1335.0 618.1 1337.5 610.0 1340.0 602.5 1343.1 625.0 1345.0 605.0 1347.5 605.6 1351.2 610.0 1354.4 604.4 1357.5 621.2 1360.0 600.0 1361.2 586.2 1363.1 571.2 1364.4 555.0 1365.6 546.9 1367.2 561.2 1369.0 572.5 1373.1 572.5 1375.0 558.8 1376.9 552.5 1380.0 573.1 1383.1 567.5 1385.0 561.2 1386.2 542.5 1387.8 556.2 1389.0 545.6 1390.0 562.5 1391.9 575.0 1395.6 593.1 1397.5 575.6 1400.6 571.2 1402.5 563.1 1405.6 571.2 1408.8 581.2 1411.2 571.2 1413.5 555.0 1416.2 567.5 1418.5 578.8 1421.2 557.5 1423.1 562.5 1428.8 559.4 1433.1 559.4 1436.0 570.0 1440.6 557.5 1443.8 567.5 1445.6 566.9 1447.5 572.5 1452.5 573.1 1455.0 581.2 1456.9 551.2 1459.4 560.0 1463.8 561.9 1465.0 568.8 1466.5 561.2 1467.5 584.4 1471.2 583.1 1474.8 583.1 1475.6 562.5 1477.8 582.5 1480.0 573.1 1483.8 573.1 1488.1 572.5 1491.9 575.0 1495.6 573.8 1498.8 570.6 1505.0 570.0 1510.0 568.8 1513.8 570.6 1518.8 568.8 1523.1 566.9 1528.8 566.2 1537.5 564.8" stroke="#2F5597" stroke-width="2.55" fill="none" stroke-linejoin="round" stroke-linecap="round"/>
<path d="M958.5 563.8 961.2 559.4 964.4 555.6 966.2 553.8 968.1 540.0 971.9 539.4 976.2 540.6 980.6 541.9 982.5 551.9 986.2 553.1 990.0 552.5 993.1 550.6 996.2 546.2 1000.0 548.8 1003.8 551.9 1006.9 545.0 1010.0 543.8 1013.8 545.6 1016.2 541.2 1018.1 529.4 1020.0 541.2 1021.9 551.2 1023.8 560.0 1025.6 563.8 1028.8 561.2 1031.9 560.0 1035.0 557.5 1037.5 555.0 1039.4 545.6 1042.5 542.5 1045.6 535.0 1047.5 532.5 1051.2 530.0 1055.6 527.5 1059.4 526.9 1062.5 529.4 1066.2 527.5 1068.8 525.0 1071.2 519.4 1074.4 511.2 1077.5 506.9 1080.0 505.0 1082.5 503.8 1085.2 496.9 1087.5 501.2 1091.2 510.0 1093.8 522.5 1095.0 521.2 1098.1 523.8 1101.2 525.6 1104.4 520.0 1106.9 524.4 1110.0 523.8 1113.1 521.2 1116.0 493.1 1118.1 503.8 1121.2 515.0 1124.4 526.2 1126.9 534.4 1130.0 533.8 1131.9 530.6 1135.0 532.5 1137.5 533.8 1140.0 530.6 1143.1 529.4 1146.2 528.1 1150.6 529.4 1153.8 526.9 1157.5 525.6 1160.0 525.0 1161.9 530.0 1164.4 522.5 1167.5 519.4 1172.0 517.5 1176.9 513.1 1180.0 513.8 1183.1 502.5 1184.4 497.5 1188.1 487.5 1191.9 476.2 1195.0 466.2 1197.5 461.9 1200.6 456.9 1203.8 451.9 1205.6 476.9 1208.1 465.0 1210.0 472.5 1213.8 467.5 1216.2 460.6 1219.4 470.6 1221.9 468.1 1225.0 470.0 1228.1 472.5 1230.6 476.2 1232.5 485.6 1236.2 486.2 1238.1 478.8 1241.2 473.1 1243.8 468.1 1247.5 464.4 1250.0 461.9 1251.5 458.1 1253.8 473.8 1256.9 467.5 1260.0 462.5 1261.9 446.9 1263.1 446.2 1264.8 431.9 1266.9 437.5 1268.8 460.0 1270.6 502.5 1273.1 505.6 1275.0 500.0 1277.5 498.8 1281.2 501.9 1283.8 504.4 1285.6 495.0 1287.5 482.5 1290.6 486.2 1295.0 494.4 1297.5 485.0 1299.8 461.9 1302.5 467.5 1306.9 474.4 1310.0 473.1 1310.6 468.8 1315.6 466.2 1318.8 468.8 1321.2 473.1 1321.9 467.5 1325.0 465.6 1328.8 462.5 1332.5 466.2 1336.2 468.8 1339.4 470.6 1341.9 458.8 1344.4 436.2 1346.9 427.5 1349.4 421.2 1351.2 435.6 1353.8 432.5 1356.2 422.5 1358.8 403.8 1360.6 390.0 1363.1 396.2 1364.0 387.5 1365.2 361.2 1366.2 387.5 1367.2 437.5 1366.9 486.9 1370.0 495.0 1373.1 502.5 1375.0 511.2 1376.2 498.1 1380.0 497.5 1383.8 498.1 1386.9 505.0 1389.4 508.1 1391.9 493.8 1394.0 483.1 1396.9 485.6 1398.8 477.5 1400.6 482.5 1405.0 476.2 1408.8 480.0 1412.5 478.1 1416.9 478.8 1419.4 493.8 1421.5 508.1 1423.1 500.6 1426.9 502.5 1430.0 504.4 1435.0 499.4 1439.0 496.2 1441.0 501.9 1442.5 497.5 1445.6 502.5 1449.4 511.2 1453.1 516.2 1455.0 502.5 1456.9 491.9 1460.0 493.8 1463.1 494.4 1464.0 525.0 1464.8 542.5 1467.5 536.9 1472.5 541.9 1475.6 533.1 1480.0 535.0 1484.4 536.9 1487.5 530.0 1490.0 533.8 1495.6 528.1 1499.4 528.1 1501.9 525.6 1505.0 528.8 1508.1 532.5 1510.0 528.8 1512.5 533.8 1516.2 527.5 1518.8 524.4 1521.2 526.2 1522.5 523.8 1526.2 524.4 1531.2 522.5 1533.8 518.1 1535.6 521.2" stroke="#B4202A" stroke-width="2.55" fill="none" stroke-linejoin="round" stroke-linecap="round"/>
<path d="M956.2 520.0 958.1 521.2 960.6 527.5 963.1 524.4 965.6 521.9 968.5 520.6 971.2 528.1 972.5 521.2 975.6 518.8 979.4 515.0 982.8 519.4 985.0 521.9 989.4 520.6 991.2 527.5 993.8 538.1 998.1 537.5 1001.2 536.9 1003.1 545.0 1006.9 562.5 1009.4 555.0 1012.5 541.2 1015.0 536.2 1018.1 545.0 1022.5 545.0 1025.0 546.2 1028.1 545.0 1031.2 542.5 1035.6 540.6 1039.0 540.0 1040.6 550.0 1043.1 557.5 1046.5 572.5 1047.5 532.5 1048.1 507.5 1051.2 500.0 1053.8 504.4 1056.2 510.6 1057.5 503.8 1060.6 503.1 1063.1 506.2 1066.9 505.6 1070.6 500.0 1073.8 498.8 1077.5 497.5 1080.0 496.9 1081.5 486.2 1084.4 485.0 1089.4 480.6 1093.1 470.0 1096.2 483.1 1101.2 484.4 1103.1 481.2 1104.4 458.8 1106.2 466.2 1110.0 457.5 1114.0 448.8 1117.5 455.0 1120.0 472.5 1123.8 497.5 1126.9 479.4 1130.0 497.5 1133.1 506.2 1136.2 513.8 1138.8 515.0 1139.4 503.8 1141.2 515.0 1142.5 510.0 1145.0 496.2 1147.5 484.4 1149.4 493.8 1151.9 489.4 1156.2 492.5 1160.6 496.9 1163.8 487.5 1167.5 486.9 1170.0 483.1 1173.8 480.6 1180.0 483.1 1182.5 476.2 1184.4 470.0 1187.5 470.6 1191.9 471.9 1194.4 479.4 1197.5 481.9 1201.9 485.0 1204.4 496.9 1206.9 500.6 1208.8 508.8 1211.9 507.5 1215.6 503.8 1216.9 515.0 1218.1 501.2 1220.0 491.2 1223.1 496.2 1226.2 501.2 1228.1 507.5 1231.2 510.6 1235.6 497.5 1237.5 505.0 1240.0 500.0 1243.1 500.0 1246.9 486.9 1248.8 493.1 1251.9 490.6 1253.8 477.5 1258.1 491.9 1261.2 482.5 1265.0 470.0 1267.5 477.5 1271.2 483.1 1273.1 481.9 1275.6 473.8 1275.6 470.6 1280.0 470.0 1283.1 471.2 1285.6 470.6 1286.9 467.5 1291.2 468.8 1293.1 452.5 1295.0 450.6 1296.5 442.5 1298.1 450.0 1302.5 457.5 1305.6 449.4 1309.4 453.1 1313.8 450.0 1315.6 443.1 1317.5 445.0 1319.4 463.8 1320.6 452.5 1325.0 446.9 1328.8 446.9 1330.6 462.5 1331.9 468.8 1333.8 496.2 1335.2 514.4 1336.9 512.5 1338.1 493.8 1339.8 485.6 1341.2 493.1 1345.0 493.8 1348.8 494.4 1350.6 502.5 1353.1 506.2 1355.6 505.0 1358.8 501.9 1360.6 503.8 1362.5 498.8 1363.8 502.5 1370.0 501.9 1371.9 506.2 1374.4 506.2 1375.2 501.2 1376.9 504.4 1381.2 498.8 1383.1 500.6 1385.0 507.5 1386.5 513.1" stroke="#000000" stroke-width="2.55" fill="none" stroke-linejoin="round" stroke-linecap="round"/>
<path d="M955 324.3V669.3H1537.4M949.6 325.00H955M949.6 393.75H955M949.6 462.50H955M949.6 531.25H955M949.6 600.00H955M949.6 668.75H955M955.00 669.3v5.3M1004.55 669.3v5.3M1049.31 669.3v5.3M1098.86 669.3v5.3M1146.81 669.3v5.3M1196.36 669.3v5.3M1244.31 669.3v5.3M1293.86 669.3v5.3M1343.41 669.3v5.3M1391.36 669.3v5.3M1440.91 669.3v5.3M1488.87 669.3v5.3" stroke="#000" stroke-width="1.45" fill="none"/>
<text x="914.40" y="330.30" font-family="'Liberation Sans','Noto Sans CJK SC',sans-serif" font-size="15.6" fill="#595959" textLength="24.60" lengthAdjust="spacingAndGlyphs">255</text>
<text x="914.40" y="399.05" font-family="'Liberation Sans','Noto Sans CJK SC',sans-serif" font-size="15.6" fill="#595959" textLength="24.60" lengthAdjust="spacingAndGlyphs">205</text>
<text x="914.40" y="467.80" font-family="'Liberation Sans','Noto Sans CJK SC',sans-serif" font-size="15.6" fill="#595959" textLength="24.60" lengthAdjust="spacingAndGlyphs">155</text>
<text x="914.40" y="536.55" font-family="'Liberation Sans','Noto Sans CJK SC',sans-serif" font-size="15.6" fill="#595959" textLength="24.60" lengthAdjust="spacingAndGlyphs">105</text>
<text x="922.80" y="605.30" font-family="'Liberation Sans','Noto Sans CJK SC',sans-serif" font-size="15.6" fill="#595959" textLength="16.20" lengthAdjust="spacingAndGlyphs">55</text>
<text x="931.20" y="674.05" font-family="'Liberation Sans','Noto Sans CJK SC',sans-serif" font-size="15.6" fill="#595959" textLength="7.80" lengthAdjust="spacingAndGlyphs">5</text>
<text transform="translate(960.00 692.00) rotate(-45)" text-anchor="end" font-family="'Liberation Sans','Noto Sans CJK SC',sans-serif" font-size="16" letter-spacing="0.45" fill="#595959"><tspan font-size="14.9">1</tspan>月<tspan font-size="14.9">2</tspan>日</text>
<text transform="translate(1009.55 692.00) rotate(-45)" text-anchor="end" font-family="'Liberation Sans','Noto Sans CJK SC',sans-serif" font-size="16" letter-spacing="0.45" fill="#595959"><tspan font-size="14.9">2</tspan>月<tspan font-size="14.9">2</tspan>日</text>
<text transform="translate(1054.31 692.00) rotate(-45)" text-anchor="end" font-family="'Liberation Sans','Noto Sans CJK SC',sans-serif" font-size="16" letter-spacing="0.45" fill="#595959"><tspan font-size="14.9">3</tspan>月<tspan font-size="14.9">2</tspan>日</text>
<text transform="translate(1103.86 692.00) rotate(-45)" text-anchor="end" font-family="'Liberation Sans','Noto Sans CJK SC',sans-serif" font-size="16" letter-spacing="0.45" fill="#595959"><tspan font-size="14.9">4</tspan>月<tspan font-size="14.9">2</tspan>日</text>
<text transform="translate(1151.81 692.00) rotate(-45)" text-anchor="end" font-family="'Liberation Sans','Noto Sans CJK SC',sans-serif" font-size="16" letter-spacing="0.45" fill="#595959"><tspan font-size="14.9">5</tspan>月<tspan font-size="14.9">2</tspan>日</text>
<text transform="translate(1201.36 692.00) rotate(-45)" text-anchor="end" font-family="'Liberation Sans','Noto Sans CJK SC',sans-serif" font-size="16" letter-spacing="0.45" fill="#595959"><tspan font-size="14.9">6</tspan>月<tspan font-size="14.9">2</tspan>日</text>
<text transform="translate(1249.31 692.00) rotate(-45)" text-anchor="end" font-family="'Liberation Sans','Noto Sans CJK SC',sans-serif" font-size="16" letter-spacing="0.45" fill="#595959"><tspan font-size="14.9">7</tspan>月<tspan font-size="14.9">2</tspan>日</text>
<text transform="translate(1298.86 692.00) rotate(-45)" text-anchor="end" font-family="'Liberation Sans','Noto Sans CJK SC',sans-serif" font-size="16" letter-spacing="0.45" fill="#595959"><tspan font-size="14.9">8</tspan>月<tspan font-size="14.9">2</tspan>日</text>
<text transform="translate(1348.41 692.00) rotate(-45)" text-anchor="end" font-family="'Liberation Sans','Noto Sans CJK SC',sans-serif" font-size="16" letter-spacing="0.45" fill="#595959"><tspan font-size="14.9">9</tspan>月<tspan font-size="14.9">2</tspan>日</text>
<text transform="translate(1396.36 692.00) rotate(-45)" text-anchor="end" font-family="'Liberation Sans','Noto Sans CJK SC',sans-serif" font-size="16" letter-spacing="0.45" fill="#595959"><tspan font-size="14.9">10</tspan>月<tspan font-size="14.9">2</tspan>日</text>
<text transform="translate(1445.91 692.00) rotate(-45)" text-anchor="end" font-family="'Liberation Sans','Noto Sans CJK SC',sans-serif" font-size="16" letter-spacing="0.45" fill="#595959"><tspan font-size="14.9">11</tspan>月<tspan font-size="14.9">2</tspan>日</text>
<text transform="translate(1493.87 692.00) rotate(-45)" text-anchor="end" font-family="'Liberation Sans','Noto Sans CJK SC',sans-serif" font-size="16" letter-spacing="0.45" fill="#595959"><tspan font-size="14.9">12</tspan>月<tspan font-size="14.9">2</tspan>日</text>
<path d="M997.40 339.4h34.6" stroke="#F4B6BB" stroke-width="2.7" stroke-linecap="round" fill="none"/>
<text x="1036.00" y="343.80" font-family="'Liberation Sans','Noto Sans CJK SC',sans-serif" font-size="15.6" fill="#595959" textLength="33.8" lengthAdjust="spacingAndGlyphs">2019</text>
<path d="M1112.70 339.4h34.6" stroke="#A9D18E" stroke-width="2.7" stroke-linecap="round" fill="none"/>
<text x="1151.30" y="343.80" font-family="'Liberation Sans','Noto Sans CJK SC',sans-serif" font-size="15.6" fill="#595959" textLength="33.8" lengthAdjust="spacingAndGlyphs">2020</text>
<path d="M1228.00 339.4h34.6" stroke="#2F5597" stroke-width="2.7" stroke-linecap="round" fill="none"/>
<text x="1266.60" y="343.80" font-family="'Liberation Sans','Noto Sans CJK SC',sans-serif" font-size="15.6" fill="#595959" textLength="33.8" lengthAdjust="spacingAndGlyphs">2021</text>
<path d="M1343.30 339.4h34.6" stroke="#B4202A" stroke-width="2.7" stroke-linecap="round" fill="none"/>
<text x="1381.90" y="343.80" font-family="'Liberation Sans','Noto Sans CJK SC',sans-serif" font-size="15.6" fill="#595959" textLength="33.8" lengthAdjust="spacingAndGlyphs">2022</text>
<path d="M1458.60 339.4h34.6" stroke="#000000" stroke-width="2.7" stroke-linecap="round" fill="none"/>
<text x="1497.20" y="343.80" font-family="'Liberation Sans','Noto Sans CJK SC',sans-serif" font-size="15.6" fill="#595959" textLength="33.8" lengthAdjust="spacingAndGlyphs">2023</text>
</g>
<g id="captions">
<g fill="#000" stroke="#000" stroke-width="0.25" font-family="'Liberation Sans','Noto Sans CJK SC',sans-serif" ><text transform="translate(144.30 286.40) scale(1.000 0.960)" font-size="20.40" x="0.00">图</text><text transform="translate(144.30 286.40) scale(0.870 1)" font-size="21.22" stroke="#000" stroke-width="0.37" x="23.41 35.13">11</text><text transform="translate(144.30 286.40) scale(1.000 0.960)" font-size="20.40" x="40.80 61.20 81.60 102.00 122.40 142.80 163.20 183.60 204.00 224.40 244.80 265.20 285.60 306.00 325.18 346.80 367.20">：原糖较巴西含水乙醇生产优势（美分</text><text transform="translate(144.30 286.40) scale(0.870 1)" font-size="21.22" stroke="#000" stroke-width="0.37" x="448.43">/</text><text transform="translate(144.30 286.40) scale(1.000 0.960)" font-size="20.40" x="397.80 419.83">磅）</text></g>
<g fill="#000" stroke="#000" stroke-width="0.25" font-family="'Liberation Sans','Noto Sans CJK SC',sans-serif" ><text transform="translate(875.30 286.40) scale(1.000 0.960)" font-size="20.40" x="0.00">图</text><text transform="translate(875.30 286.40) scale(0.870 1)" font-size="21.22" stroke="#000" stroke-width="0.37" x="23.41 35.13">12</text><text transform="translate(875.30 286.40) scale(1.000 0.960)" font-size="20.40" x="40.80">：</text><text transform="translate(875.30 286.40) scale(0.680 1)" font-size="20.40" stroke="#000" stroke-width="0.85" x="94.67 105.13 120.70">ICE</text><text transform="translate(875.30 286.40) scale(1.000 0.960)" font-size="20.40" x="91.80 112.20">原糖</text><text transform="translate(875.30 286.40) scale(1.900 1)" font-size="20.40" x="69.08">-</text><text transform="translate(875.30 286.40) scale(0.680 1)" font-size="20.40" stroke="#000" stroke-width="0.85" x="214.67 225.13 240.70">ICE</text><text transform="translate(875.30 286.40) scale(1.000 0.960)" font-size="20.40" x="173.40 193.80 214.20 234.60 253.78 275.40 295.80">白糖价差（美元</text><text transform="translate(875.30 286.40) scale(0.870 1)" font-size="21.22" stroke="#000" stroke-width="0.37" x="366.36">/</text><text transform="translate(875.30 286.40) scale(1.000 0.960)" font-size="20.40" x="326.40 348.43">吨）</text></g>
<g fill="#000" stroke="#000" stroke-width="0.25" font-family="'Liberation Sans','Noto Sans CJK SC',sans-serif" ><text transform="translate(144.30 780.90) scale(1.000 0.960)" font-size="20.40" x="0.00 20.40 40.80 61.20 81.60">资料来源：</text><text transform="translate(144.30 780.90) scale(0.680 1)" font-size="20.40" stroke="#000" stroke-width="0.85" x="150.70 165.70 180.70 196.83 209.57">ESALQ</text><text transform="translate(144.30 780.90) scale(1.000 0.960)" font-size="20.40" x="153.00 173.40 193.80 214.20 234.60 255.00 275.40 295.80 316.20">、五矿期货研究中心</text></g>
<g fill="#000" stroke="#000" stroke-width="0.25" font-family="'Liberation Sans','Noto Sans CJK SC',sans-serif" ><text transform="translate(875.30 780.90) scale(1.000 0.960)" font-size="20.40" x="0.00 20.40 40.80 61.20 81.60 102.00 122.40 142.80 163.20 183.60 204.00 224.40 244.80">资料来源：五矿期货研究中心</text></g>
</g>
</svg>
</body>
</html>
